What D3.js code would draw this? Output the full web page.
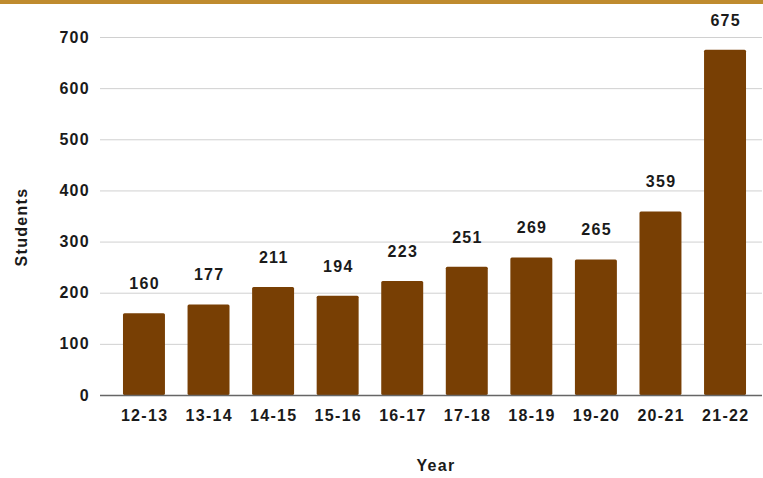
<!DOCTYPE html>
<html><head><meta charset="utf-8">
<script src="https://cdn.jsdelivr.net/npm/d3@7"></script>
<style>
html,body{margin:0;padding:0;background:#fff;}
svg{display:block;font-family:"Liberation Sans",Arial,sans-serif;}
</style></head>
<body>
<svg id="chart" width="763" height="478"></svg>
<script>
const years = ["12-13","13-14","14-15","15-16","16-17","17-18","18-19","19-20","20-21","21-22"];
const students = [160,177,211,194,223,251,269,265,359,675];
const yTicks = [0,100,200,300,400,500,600,700];

(function(){
const svg = d3.select("#chart");
const W = 763, H = 478;
const mLeft = 100, mRight = 769, mTop = 37, mBottom = 395;
const FONT = "'Liberation Sans',Arial,sans-serif";
const FS = 16, LS = 1.3, TXT = "#1a1a1a";

svg.append("rect").attr("x",0).attr("y",0).attr("width",W).attr("height",4).attr("fill","#BF8B2E");

const x = d3.scaleBand().domain(years).range([mLeft, mRight]).paddingInner(0.35).paddingOuter(0.356);
const y = d3.scaleLinear().domain([0,700]).range([mBottom, mTop]);

svg.append("g").selectAll("line").data(yTicks.filter(d=>d>0)).join("line")
  .attr("x1", mLeft).attr("x2", 762)
  .attr("y1", d=>y(d)+0.5).attr("y2", d=>y(d)+0.5)
  .attr("stroke","#d0d0d0").attr("stroke-width",1);

const yAxis = d3.axisLeft(y).tickValues(yTicks).tickSize(0).tickPadding(10);
const gy = svg.append("g").attr("transform",`translate(${mLeft},0)`).call(yAxis);
gy.select(".domain").remove();
gy.selectAll("text").attr("font-size",FS).attr("font-weight","bold").attr("fill",TXT)
  .attr("font-family",FONT).attr("letter-spacing",LS);

svg.append("g").selectAll("rect").data(years).join("rect")
  .attr("x", d=>x(d)).attr("width", x.bandwidth())
  .attr("y", (d,i)=>y(students[i])).attr("height",(d,i)=>mBottom - y(students[i]))
  .attr("fill","#783F04").attr("rx",1.5);

svg.append("line").attr("x1",mLeft).attr("x2",762).attr("y1",mBottom+0.5).attr("y2",mBottom+0.5)
  .attr("stroke","#666").attr("stroke-width",1.5);

const xAxis = d3.axisBottom(x).tickSize(0).tickPadding(14.5);
const gx = svg.append("g").attr("transform",`translate(0,${mBottom})`).call(xAxis);
gx.select(".domain").remove();
gx.selectAll("text").attr("font-size",FS).attr("font-weight","bold").attr("fill",TXT)
  .attr("font-family",FONT).attr("letter-spacing",LS).attr("dx", LS/2);

svg.append("g").selectAll("text").data(years).join("text")
  .attr("x", d=>x(d)+x.bandwidth()/2 + LS/2)
  .attr("y", (d,i)=>y(students[i]) - 24)
  .attr("text-anchor","middle")
  .attr("font-size",FS).attr("font-weight","bold").attr("fill",TXT).attr("letter-spacing",LS)
  .text((d,i)=>students[i]);

svg.append("text").attr("x",436).attr("y",471).attr("text-anchor","middle")
  .attr("font-size",FS).attr("font-weight","bold").attr("fill",TXT).attr("letter-spacing",LS).text("Year");
svg.append("text").attr("transform","translate(27,227) rotate(-90)").attr("text-anchor","middle")
  .attr("font-size",FS).attr("font-weight","bold").attr("fill",TXT).attr("letter-spacing",LS).text("Students");
})();
</script>
</body></html>
